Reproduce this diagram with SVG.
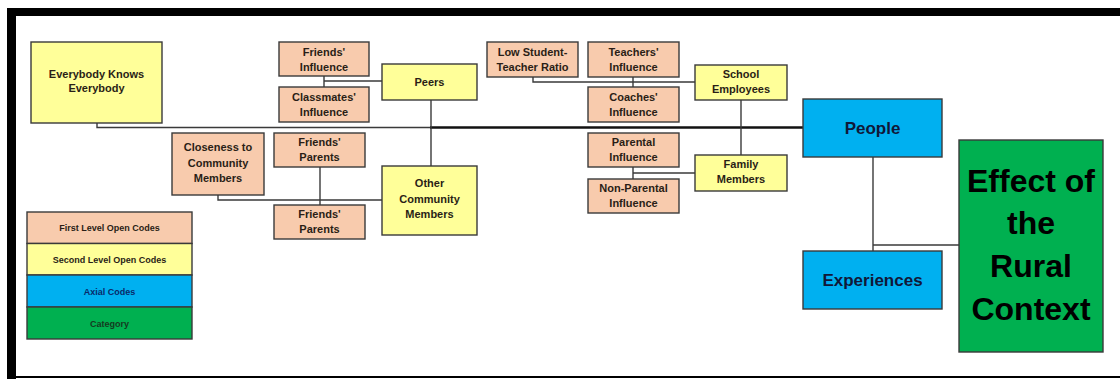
<svg xmlns="http://www.w3.org/2000/svg" width="1120" height="379" viewBox="0 0 1120 379">
<style>
.b{stroke:#3a3a3a;stroke-width:1.4}
.p{fill:#f8cbad}
.y{fill:#ffff99}
.a{fill:#00b0f0}
.g{fill:#00b050}
text{font-family:"Liberation Sans",Arial,sans-serif;font-weight:bold;text-anchor:middle}
.t{font-size:11px;fill:#2a1e16}
.l{font-size:9px;fill:#2a1e16}
.c{fill:none;stroke:#3a3a3a;stroke-width:1.4}
.m{fill:none;stroke:#111;stroke-width:2.6}
</style>
<rect x="0" y="0" width="1120" height="379" fill="#fff"/>
<g id="frame">
<rect x="7" y="8" width="1113" height="8" fill="#000"/>
<rect x="7" y="8" width="9" height="371" fill="#000"/>
<rect x="7" y="376" width="1113" height="2" fill="#000"/>
</g>
<g id="connectors">
<polyline class="c" points="97,123 97,127.5 431,127.5"/>
<line class="m" x1="430" y1="127.5" x2="803" y2="127.5"/>
<polyline class="c" points="324,76 324,87"/>
<polyline class="c" points="324,81 382,81"/>
<line class="c" x1="431" y1="100" x2="431" y2="166"/>
<polyline class="c" points="218,195 218,200 382,200"/>
<line class="c" x1="320" y1="167" x2="320" y2="205"/>
<polyline class="c" points="533,77 533,82 695,82"/>
<line class="c" x1="633" y1="77" x2="633" y2="87"/>
<line class="c" x1="741" y1="100" x2="741" y2="155"/>
<line class="c" x1="633" y1="167" x2="633" y2="179"/>
<line class="c" x1="633" y1="173" x2="695" y2="173"/>
<line class="c" x1="873" y1="157" x2="873" y2="251"/>
<line class="c" x1="873" y1="245" x2="959" y2="245"/>
</g>
<g id="everybody"><rect class="b y" x="31" y="42" width="131" height="81"/><text class="t" x="96.5" y="78" font-size="11.5">Everybody Knows</text><text class="t" x="96.5" y="92">Everybody</text></g>
<g id="friends-influence"><rect class="b p" x="279" y="42" width="90" height="34"/><text class="t" x="324" y="56">Friends'</text><text class="t" x="324" y="70.5">Influence</text></g>
<g id="classmates-influence"><rect class="b p" x="279" y="87" width="90" height="35"/><text class="t" x="324" y="101">Classmates'</text><text class="t" x="324" y="115.5">Influence</text></g>
<g id="peers"><rect class="b y" x="382" y="64" width="95" height="36"/><text class="t" x="429.5" y="86">Peers</text></g>
<g id="closeness"><rect class="b p" x="172" y="133" width="92" height="62"/><text class="t" x="218" y="151">Closeness to</text><text class="t" x="218" y="166.5">Community</text><text class="t" x="218" y="182">Members</text></g>
<g id="friends-parents-1"><rect class="b p" x="274" y="133" width="91" height="34"/><text class="t" x="319.5" y="146">Friends'</text><text class="t" x="319.5" y="160.5">Parents</text></g>
<g id="friends-parents-2"><rect class="b p" x="274" y="205" width="91" height="34"/><text class="t" x="319.5" y="218">Friends'</text><text class="t" x="319.5" y="232.5">Parents</text></g>
<g id="other-community"><rect class="b y" x="382" y="166" width="95" height="69"/><text class="t" x="429.5" y="187">Other</text><text class="t" x="429.5" y="202.5">Community</text><text class="t" x="429.5" y="218">Members</text></g>
<g id="low-ratio"><rect class="b p" x="487" y="42" width="91" height="35"/><text class="t" x="532.5" y="56">Low Student-</text><text class="t" x="532.5" y="70.5">Teacher Ratio</text></g>
<g id="teachers"><rect class="b p" x="588" y="42" width="91" height="35"/><text class="t" x="633.5" y="56">Teachers'</text><text class="t" x="633.5" y="70.5">Influence</text></g>
<g id="coaches"><rect class="b p" x="588" y="87" width="91" height="35"/><text class="t" x="633.5" y="101">Coaches'</text><text class="t" x="633.5" y="115.5">Influence</text></g>
<g id="school-employees"><rect class="b y" x="695" y="65" width="92" height="35"/><text class="t" x="741" y="78">School</text><text class="t" x="741" y="93">Employees</text></g>
<g id="parental"><rect class="b p" x="588" y="133" width="91" height="34"/><text class="t" x="633.5" y="146">Parental</text><text class="t" x="633.5" y="160.5">Influence</text></g>
<g id="non-parental"><rect class="b p" x="588" y="179" width="91" height="34"/><text class="t" x="633.5" y="192">Non-Parental</text><text class="t" x="633.5" y="206.5">Influence</text></g>
<g id="family"><rect class="b y" x="695" y="155" width="92" height="36"/><text class="t" x="741" y="168">Family</text><text class="t" x="741" y="183">Members</text></g>
<g id="people"><rect class="b a" x="803" y="99" width="139" height="58"/><text x="872.5" y="134" font-size="17" fill="#101838">People</text></g>
<g id="experiences"><rect class="b a" x="803" y="251" width="139" height="58"/><text x="872.5" y="286" font-size="17" fill="#101838">Experiences</text></g>
<g id="effect"><rect class="b g" x="959" y="140" width="144" height="212"/><g font-size="32" fill="#000"><text x="1031" y="192">Effect of</text><text x="1031" y="234">the</text><text x="1031" y="277">Rural</text><text x="1031" y="320">Context</text></g></g>
<g id="legend">
<rect class="b p" x="27" y="212" width="165" height="31.5"/>
<rect class="b y" x="27" y="243.5" width="165" height="31.5"/>
<rect class="b a" x="27" y="275" width="165" height="32"/>
<rect class="b g" x="27" y="307" width="165" height="32"/>
<text class="l" x="109.5" y="231">First Level Open Codes</text>
<text class="l" x="109.5" y="262.5">Second Level Open Codes</text>
<text class="l" x="109.5" y="294.5" style="fill:#0a2a6a">Axial Codes</text>
<text class="l" x="109.5" y="326.5" style="fill:#153a20">Category</text>
</g>
</svg>
